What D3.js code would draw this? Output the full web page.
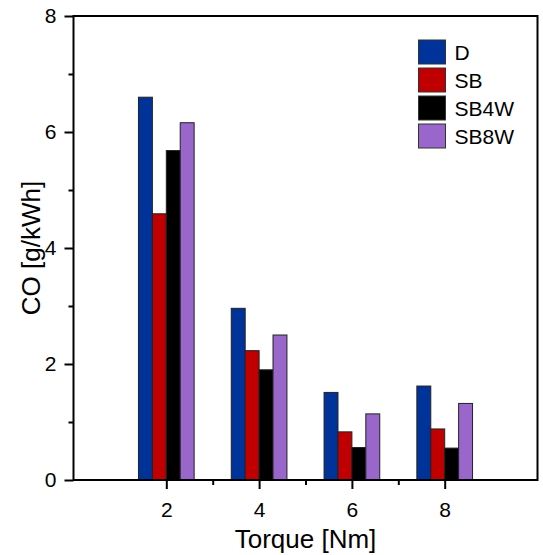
<!DOCTYPE html>
<html>
<head>
<meta charset="utf-8">
<script src="https://cdn.jsdelivr.net/npm/d3@7"></script>
<style>
  html, body { margin: 0; padding: 0; background: #fff; }
  text { font-family: "Liberation Sans", Arial, sans-serif; fill: #000; }
</style>
</head>
<body>
<svg id="chart" width="543" height="555"></svg>
<script>
// Torque levels (Nm) and CO emissions (g/kWh) per fuel
const torques = [2, 4, 6, 8];
const seriesNames = ["D", "SB", "SB4W", "SB8W"];
const valuesD    = [6.60, 2.96, 1.51, 1.62];
const valuesSB   = [4.59, 2.23, 0.83, 0.88];
const valuesSB4W = [5.68, 1.90, 0.56, 0.55];
const valuesSB8W = [6.16, 2.50, 1.14, 1.32];
const seriesColors = ["#00339a", "#c00000", "#000000", "#9966cc"];
const xTicks = [2, 4, 6, 8];
const xMinorTicks = [3, 5, 7];
const yTicks = [0, 2, 4, 6, 8];
const yMinorTicks = [1, 3, 5, 7];

const seriesValues = [valuesD, valuesSB, valuesSB4W, valuesSB8W];

const svg = d3.select("#chart");
const plotLeft = 73.5, plotRight = 537.5, plotTop = 16, plotBottom = 480;

const x = d3.scaleLinear().domain([0, 10]).range([plotLeft, plotRight]);
const y = d3.scaleLinear().domain([0, 8]).range([plotBottom, plotTop]);
const barW = 0.3; // bar width in torque units

// bars
seriesValues.forEach((vals, si) => {
  svg.append("g").selectAll("rect")
    .data(vals)
    .join("rect")
    .attr("x", (d, i) => x(torques[i] - 2 * barW + si * barW))
    .attr("width", (d, i) => x(torques[i] - 2 * barW + (si + 1) * barW) - x(torques[i] - 2 * barW + si * barW))
    .attr("y", d => y(d))
    .attr("height", d => y(0) - y(d))
    .attr("fill", seriesColors[si])
    .attr("stroke", "#222")
    .attr("stroke-width", 1);
});

// frame
svg.append("rect")
  .attr("x", plotLeft).attr("y", plotTop)
  .attr("width", plotRight - plotLeft).attr("height", plotBottom - plotTop)
  .attr("fill", "none").attr("stroke", "#000").attr("stroke-width", 2);

// x axis
svg.append("g").attr("transform", `translate(0,${plotBottom})`)
  .call(d3.axisBottom(x).tickValues(xTicks).tickSize(9).tickPadding(13).tickFormat(d3.format("d")));
svg.append("g").attr("transform", `translate(0,${plotBottom})`)
  .call(d3.axisBottom(x).tickValues(xMinorTicks).tickSize(5).tickFormat(""));

// y axis
svg.append("g").attr("transform", `translate(${plotLeft},0)`)
  .call(d3.axisLeft(y).tickValues(yTicks).tickSize(9).tickPadding(8).tickFormat(d3.format("d")));
svg.append("g").attr("transform", `translate(${plotLeft},0)`)
  .call(d3.axisLeft(y).tickValues(yMinorTicks).tickSize(5).tickFormat(""));

svg.selectAll(".domain").remove();
svg.selectAll(".tick line").attr("stroke", "#000").attr("stroke-width", 2);
svg.selectAll(".tick text").style("font-family", "'Liberation Sans', Arial, sans-serif")
  .style("font-size", "21px").attr("fill", "#000");

// axis titles
svg.append("text")
  .attr("x", (plotLeft + plotRight) / 2).attr("y", 548)
  .attr("text-anchor", "middle")
  .style("font-size", "26px")
  .text("Torque [Nm]");

svg.append("text")
  .attr("transform", `translate(40,${(plotTop + plotBottom) / 2}) rotate(-90)`)
  .attr("text-anchor", "middle")
  .style("font-size", "26px")
  .text("CO [g/kWh]");

// legend
const legend = svg.append("g").attr("transform", "translate(418.5,40)");
seriesNames.forEach((name, i) => {
  const g = legend.append("g").attr("transform", `translate(0,${i * 28})`);
  g.append("rect").attr("width", 27).attr("height", 24)
    .attr("fill", seriesColors[i]).attr("stroke", "#333").attr("stroke-width", 1);
  g.append("text").attr("x", 36).attr("y", 20)
    .style("font-size", "21px").text(name);
});
</script>
</body>
</html>
